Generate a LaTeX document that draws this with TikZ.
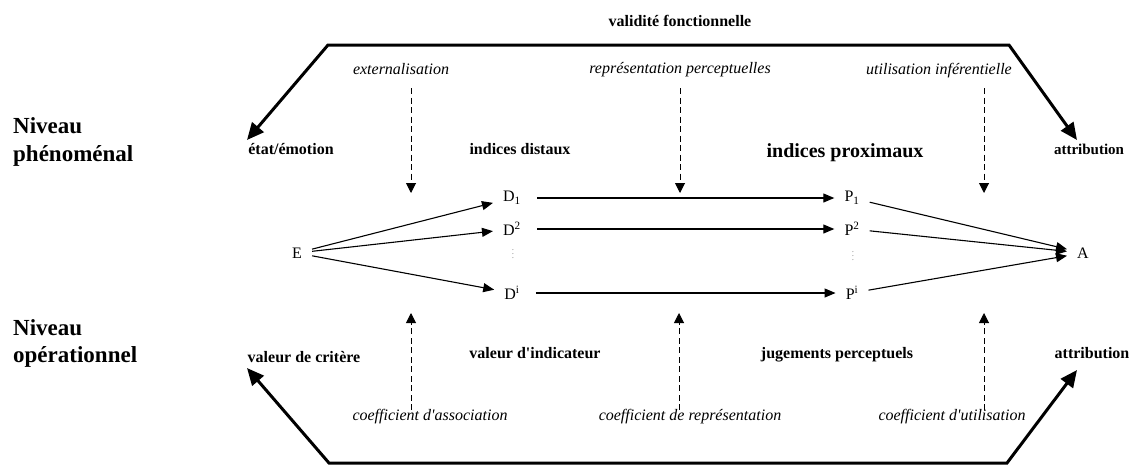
\documentclass[tikz,border=0pt]{standalone}
\usepackage{fontspec}
\setmainfont{Liberation Serif}
\usetikzlibrary{arrows.meta}
\begin{document}
\begin{tikzpicture}[x=1pt,y=-1pt,
  lbl/.style={font=\fontsize{16}{18}\selectfont\bfseries, inner sep=0pt, anchor=base},
  ital/.style={font=\fontsize{16}{18}\selectfont\itshape, inner sep=0pt, anchor=base},
  lvl/.style={font=\fontsize{23}{28}\selectfont\bfseries, inner sep=0pt, anchor=base west},
  var/.style={font=\fontsize{16}{18}\selectfont, inner xsep=10pt, inner ysep=3pt},
  vdot/.style={font=\fontsize{9}{10}\selectfont, text=black!45, inner sep=0pt},
  thin/.style={line width=1.1pt, -{Triangle[length=11pt,width=9pt]}},
  infl/.style={line width=1pt, dash pattern=on 6pt off 3.5pt, -{Triangle[length=10pt,width=10pt]}},
  heavy/.style={line width=3pt, {Triangle[length=17pt,width=15pt]}-{Triangle[length=17pt,width=15pt]}}
]
\useasboundingbox (0,0) rectangle (1135,466);

% level labels
\node[lvl] (n1a) at (13,133) {Niveau};
\node[lvl] (n1b) at (13,161) {phénoménal};
\node[lvl] (n2a) at (13,335) {Niveau};
\node[lvl] (n2b) at (13,362) {opérationnel};

% top labels
\node[lbl] (valid) at (680,26) {validité fonctionnelle};
\node[ital] (ext) at (401,74) {externalisation};
\node[ital] (rep) at (680,73) {représentation perceptuelles};
\node[ital] (uti) at (939,74) {utilisation inférentielle};
\node[lbl] (etat) at (291,154) {état/émotion};
\node[lbl] (idist) at (520,154) {indices distaux};
\node[lbl, font=\fontsize{20}{22}\selectfont\bfseries] (iprox) at (845,157) {indices proximaux};
\node[lbl, font=\fontsize{15}{18}\selectfont\bfseries] (attr1) at (1089,154) {attribution};

% bottom labels
\node[lbl] (crit) at (304,362) {valeur de critère};
\node[lbl] (indic) at (535,358) {valeur d\textquotesingle indicateur};
\node[lbl] (jug) at (837,358) {jugements perceptuels};
\node[lbl] (attr2) at (1092,358) {attribution};
\node[ital] (cass) at (430,420) {coefficient d\textquotesingle association};
\node[ital] (crep) at (690,420) {coefficient de représentation};
\node[ital] (cuti) at (952,420) {coefficient d\textquotesingle utilisation};

% variables
\node[var] (E) at (297,253) {E};
\node[var] (D1) at (512,198) {D\textsubscript{1}};
\node[var] (D2) at (512,229) {D\textsuperscript{2}};
\node[var] (Di) at (512,293) {D\textsuperscript{i}};
\node[vdot] (Dd) at (513,251) {$\vdots$};
\node[var] (P1) at (852,198) {P\textsubscript{1}};
\node[var] (P2) at (852,229) {P\textsuperscript{2}};
\node[var] (Pi) at (852,293) {P\textsuperscript{i}};
\node[vdot] (Pd) at (853,253) {$\vdots$};
\node[var] (A) at (1083,253) {A};

% lens arrows
\draw[thin] (E) -- (D1);
\draw[thin] (E) -- (D2);
\draw[thin] (E) -- (Di);
\draw[thin, shorten <=6pt] (D1) -- (P1);
\draw[thin, shorten <=6pt] (D2) -- (P2);
\draw[thin, shorten <=6pt] (Di) -- (Pi);
\draw[thin] (P1) -- (A);
\draw[thin] (P2) -- (A);
\draw[thin] (Pi) -- (A);

% influence arrows (top)
\coordinate (t1s) at (411,88);  \coordinate (t1e) at (411,193);
\coordinate (t2s) at (680,88);  \coordinate (t2e) at (680,193);
\coordinate (t3s) at (984,88);  \coordinate (t3e) at (984,193);
\draw[infl] (t1s) -- (t1e);
\draw[infl] (t2s) -- (t2e);
\draw[infl] (t3s) -- (t3e);

% influence arrows (bottom)
\coordinate (b1s) at (411,410); \coordinate (b1e) at (411,313);
\coordinate (b2s) at (679,410); \coordinate (b2e) at (679,313);
\coordinate (b3s) at (984,410); \coordinate (b3e) at (984,313);
\draw[infl] (b1s) -- (b1e);
\draw[infl] (b2s) -- (b2e);
\draw[infl] (b3s) -- (b3e);

% functional validity / achievement arrows
\coordinate (tl) at (247,140);
\coordinate (tc1) at (328,45);
\coordinate (tc2) at (1009,45);
\coordinate (tr) at (1077,140);
\draw[heavy] (tl) -- (tc1) -- (tc2) -- (tr);

\coordinate (bl) at (247,368);
\coordinate (bc1) at (329,463);
\coordinate (bc2) at (1007,463);
\coordinate (br) at (1077,370);
\draw[heavy] (bl) -- (bc1) -- (bc2) -- (br);
\end{tikzpicture}
\end{document}
